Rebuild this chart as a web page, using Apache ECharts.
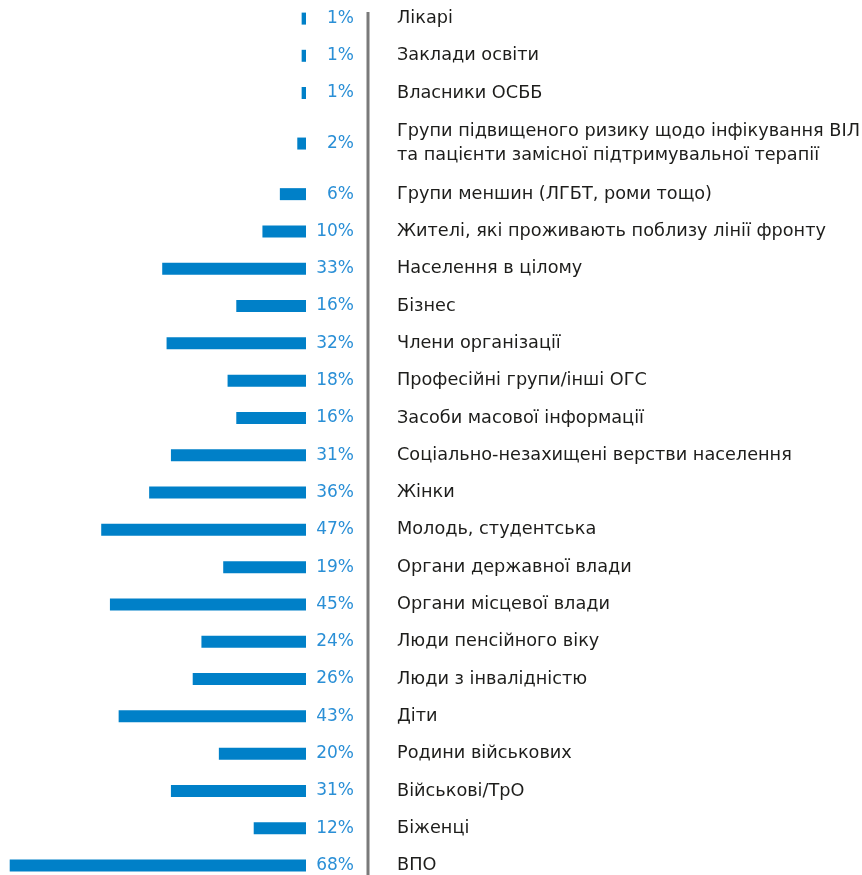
<!DOCTYPE html>
<html><head><meta charset="utf-8">
<script src="https://cdn.jsdelivr.net/npm/echarts@6/dist/echarts.min.js"></script>
<style>html,body{margin:0;padding:0;background:#fff}#c{width:862px;height:875px}</style>
</head><body><div id="c"></div>
<script>
const categories = [
  'Лікарі','Заклади освіти','Власники ОСББ',
  'Групи підвищеного ризику щодо інфікування ВІЛ\nта пацієнти замісної підтримувальної терапії',
  'Групи меншин (ЛГБТ, роми тощо)','Жителі, які проживають поблизу лінії фронту',
  'Населення в цілому','Бізнес','Члени організації','Професійні групи/інші ОГС',
  'Засоби масової інформації','Соціально-незахищені верстви населення','Жінки',
  'Молодь, студентська','Органи державної влади','Органи місцевої влади',
  'Люди пенсійного віку','Люди з інвалідністю','Діти','Родини військових',
  'Військові/ТрО','Біженці','ВПО'
];
const values = [1,1,1,2,6,10,33,16,32,18,16,31,36,47,19,45,24,26,43,20,31,12,68];

const FONT = 'DejaVu Sans';
const groups = [[0,3],[3,4],[4,23]];
const gridDefs = [
  {top: 0, height: 111.6},
  {top: 111.6, height: 63.9},
  {top: 175.5, height: 708.7}
];
const option = {
  animation: false,
  grid: gridDefs.map(g => ({left: 1, width: 305, top: g.top, height: g.height, outerBoundsMode: 'none', containLabel: false})),
  xAxis: groups.map((g,i) => ({gridIndex: i, type: 'value', min: 0, max: 70, inverse: true, show: false})),
  yAxis: groups.map((g,i) => ({
    gridIndex: i, type: 'category', position: 'right', inverse: true,
    data: categories.slice(g[0], g[1]),
    axisLine: {show: false}, axisTick: {show: false},
    axisLabel: {margin: 91, align: 'left', color: '#1d1d1b', fontSize: 17.7, fontFamily: FONT, lineHeight: 24}
  })),
  series: groups.map((g,i) => ({
    type: 'bar', xAxisIndex: i, yAxisIndex: i, barWidth: 12,
    data: values.slice(g[0], g[1]),
    itemStyle: {color: '#0080c8'},
    label: {show: true, position: 'right', distance: 48, align: 'right',
      formatter: p => p.value + '%', color: '#2a8fd6', fontSize: 17, fontFamily: FONT}
  })),
  graphic: [{type: 'line', shape: {x1: 368, y1: 12, x2: 368, y2: 875}, style: {stroke: '#7a7a7a', lineWidth: 3}}]
};
echarts.init(document.getElementById('c')).setOption(option);
</script></body></html>
